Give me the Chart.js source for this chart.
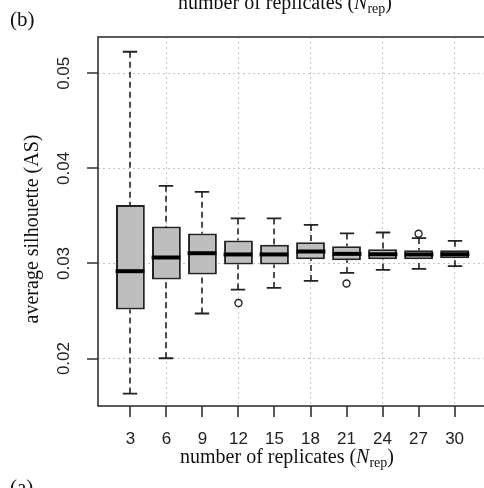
<!DOCTYPE html>
<html>
<head>
<meta charset="utf-8">
<script src="https://cdn.jsdelivr.net/npm/chart.js@4"></script>
<style>
html, body { margin: 0; padding: 0; background: #fff; overflow: hidden; }
#wrap { width: 500px; height: 488px; }
</style>
</head>
<body>
<div id="wrap"><canvas id="asChart" width="500" height="488"></canvas></div>
<script>
// Average silhouette (AS) against number of replicates, panel (b)

const replicateLabels = ['3', '6', '9', '12', '15', '18', '21', '24', '27', '30'];
const whiskerLow  = [0.01632, 0.02003, 0.02474, 0.02726, 0.02743, 0.02817, 0.02901, 0.02933, 0.02943, 0.02972];
const quartile1   = [0.02516, 0.02832, 0.02884, 0.02989, 0.02989, 0.03045, 0.03035, 0.03045, 0.03045, 0.03056];
const medians     = [0.02919, 0.03063, 0.03108, 0.03095, 0.03095, 0.03126, 0.03101, 0.03097, 0.03095, 0.03097];
const quartile3   = [0.03614, 0.03390, 0.03316, 0.03242, 0.03196, 0.03224, 0.03182, 0.03150, 0.03140, 0.03140];
const whiskerHigh = [0.05227, 0.03817, 0.03754, 0.03474, 0.03474, 0.03406, 0.03316, 0.03326, 0.03267, 0.03238];
// outlying points: which box they belong to, and their value
const outlierBox  = [4, 7, 9];
const outlierVals = [0.02585, 0.02789, 0.03312];
const yTicks = [0.02, 0.03, 0.04, 0.05];

const serif = '"Liberation Serif", "Times New Roman", serif';
const sans = '"Liberation Sans", Arial, sans-serif';
const TICK_LEN = 11;

// whiskers, caps and medians on top of the bar boxes
const boxWhiskers = {
    id: 'boxWhiskers',
    afterDatasetsDraw(chart) {
        const ctx = chart.ctx;
        const xs = chart.scales.x, ys = chart.scales.y;
        const meta = chart.getDatasetMeta(0);
        ctx.save();
        replicateLabels.forEach((_, i) => {
            const x = Math.round(xs.getPixelForValue(i + 1));
            const half = meta.data[i].width / 2;
            const cap = half / 2;
            const yLo = ys.getPixelForValue(whiskerLow[i]);
            const yHi = ys.getPixelForValue(whiskerHigh[i]);
            const yQ1 = ys.getPixelForValue(quartile1[i]);
            const yQ3 = ys.getPixelForValue(quartile3[i]);
            const yMed = ys.getPixelForValue(medians[i]);

            ctx.strokeStyle = '#222';
            ctx.lineWidth = 1.6;
            ctx.setLineDash([6, 4]);
            ctx.beginPath();
            ctx.moveTo(x, yHi); ctx.lineTo(x, yQ3);
            ctx.moveTo(x, yLo); ctx.lineTo(x, yQ1);
            ctx.stroke();

            ctx.setLineDash([]);
            ctx.lineWidth = 1.8;
            ctx.beginPath();
            ctx.moveTo(x - cap, yHi); ctx.lineTo(x + cap, yHi);
            ctx.moveTo(x - cap, yLo); ctx.lineTo(x + cap, yLo);
            ctx.stroke();

            ctx.strokeStyle = '#000';
            ctx.lineWidth = 4;
            ctx.beginPath();
            ctx.moveTo(x - half, yMed); ctx.lineTo(x + half, yMed);
            ctx.stroke();
        });
        ctx.restore();
    }
};

// plot frame, outward tick marks, axis titles and the panel letters
const frameAndText = {
    id: 'frameAndText',
    afterDraw(chart) {
        const ctx = chart.ctx;
        const a = chart.chartArea;
        const xs = chart.scales.x, ys = chart.scales.y;
        ctx.save();
        ctx.strokeStyle = '#333';
        ctx.lineWidth = 1.6;
        ctx.setLineDash([]);
        ctx.strokeRect(a.left, a.top, a.right - a.left, a.bottom - a.top);

        ctx.beginPath();
        xs.ticks.forEach(t => {
            const x = Math.round(xs.getPixelForValue(t.value));
            ctx.moveTo(x, a.bottom); ctx.lineTo(x, a.bottom + TICK_LEN);
        });
        ys.ticks.forEach(t => {
            const y = Math.round(ys.getPixelForValue(t.value));
            ctx.moveTo(a.left, y); ctx.lineTo(a.left - TICK_LEN, y);
        });
        ctx.stroke();

        ctx.fillStyle = '#111';
        ctx.textBaseline = 'alphabetic';
        ctx.font = '21px ' + serif;
        ctx.textAlign = 'left';
        ctx.fillText('(b)', 10, 26);
        ctx.fillText('(a)', 10, 494);

        drawReplicatesTitle(ctx, 287, 463);
        drawReplicatesTitle(ctx, 285, 9);

        ctx.translate(38, 229);
        ctx.rotate(-Math.PI / 2);
        ctx.textAlign = 'center';
        ctx.font = '20px ' + serif;
        ctx.fillText('average silhouette (AS)', 0, 0);
        ctx.restore();
    }
};

function drawReplicatesTitle(ctx, cx, base) {
    const parts = [
        { t: 'number of replicates (', f: '20px ' + serif, dy: 0 },
        { t: 'N', f: 'italic 20px ' + serif, dy: 0 },
        { t: 'rep', f: '14px ' + serif, dy: 4 },
        { t: ')', f: '20px ' + serif, dy: 0 }
    ];
    let total = 0;
    parts.forEach(p => { ctx.font = p.f; p.w = ctx.measureText(p.t).width; total += p.w; });
    let x = cx - total / 2;
    ctx.textAlign = 'left';
    parts.forEach(p => {
        ctx.font = p.f;
        ctx.fillText(p.t, x, base + p.dy);
        x += p.w;
    });
}

const boxData = replicateLabels.map((_, i) => ({ x: i + 1, y: [quartile1[i], quartile3[i]] }));
const outlierData = outlierBox.map((b, k) => ({ x: b, y: outlierVals[k] }));

new Chart(document.getElementById('asChart'), {
    type: 'bar',
    data: {
        datasets: [{
            type: 'bar',
            data: boxData,
            backgroundColor: '#bebebe',
            borderColor: '#222',
            borderWidth: 2,
            borderSkipped: false,
            barPercentage: 0.8,
            categoryPercentage: 1
        }, {
            type: 'scatter',
            data: outlierData,
            pointStyle: 'circle',
            pointRadius: 3.5,
            backgroundColor: '#fff',
            borderColor: '#222',
            borderWidth: 1.4
        }]
    },
    options: {
        responsive: false,
        devicePixelRatio: 1,
        animation: false,
        layout: { padding: { top: 37, right: 13, left: 0, bottom: 0 } },
        plugins: {
            legend: { display: false },
            title: { display: false },
            tooltip: { enabled: false }
        },
        scales: {
            x: {
                type: 'linear',
                min: 0.1,
                max: 10.9,
                offset: false,
                afterBuildTicks: s => { s.ticks = replicateLabels.map((_, i) => ({ value: i + 1 })); },
                afterFit: s => { s.height = 82; },
                ticks: {
                    callback: v => replicateLabels[Math.round(v) - 1],
                    font: { family: sans, size: 17 },
                    color: '#222',
                    padding: 12,
                    maxRotation: 0,
                    autoSkip: false
                },
                grid: {
                    offset: false,
                    color: c => (c.index % 2 === 1 ? '#c4c4c4' : 'rgba(0,0,0,0)'),
                    lineWidth: 1,
                    tickColor: 'rgba(0,0,0,0)',
                    tickLength: TICK_LEN
                },
                border: { display: false, dash: [2, 3] }
            },
            y: {
                min: 0.01501,
                max: 0.05382,
                afterBuildTicks: s => { s.ticks = yTicks.map(v => ({ value: v })); },
                afterFit: s => { s.width = 98; },
                ticks: {
                    callback: v => v.toFixed(2),
                    font: { family: sans, size: 17 },
                    color: '#222',
                    padding: 6,
                    minRotation: 90,
                    maxRotation: 90,
                    crossAlign: 'center'
                },
                grid: {
                    color: '#c4c4c4',
                    lineWidth: 1,
                    tickColor: 'rgba(0,0,0,0)',
                    tickLength: TICK_LEN
                },
                border: { display: false, dash: [2, 3] }
            }
        }
    },
    plugins: [boxWhiskers, frameAndText]
});
</script>
</body>
</html>
